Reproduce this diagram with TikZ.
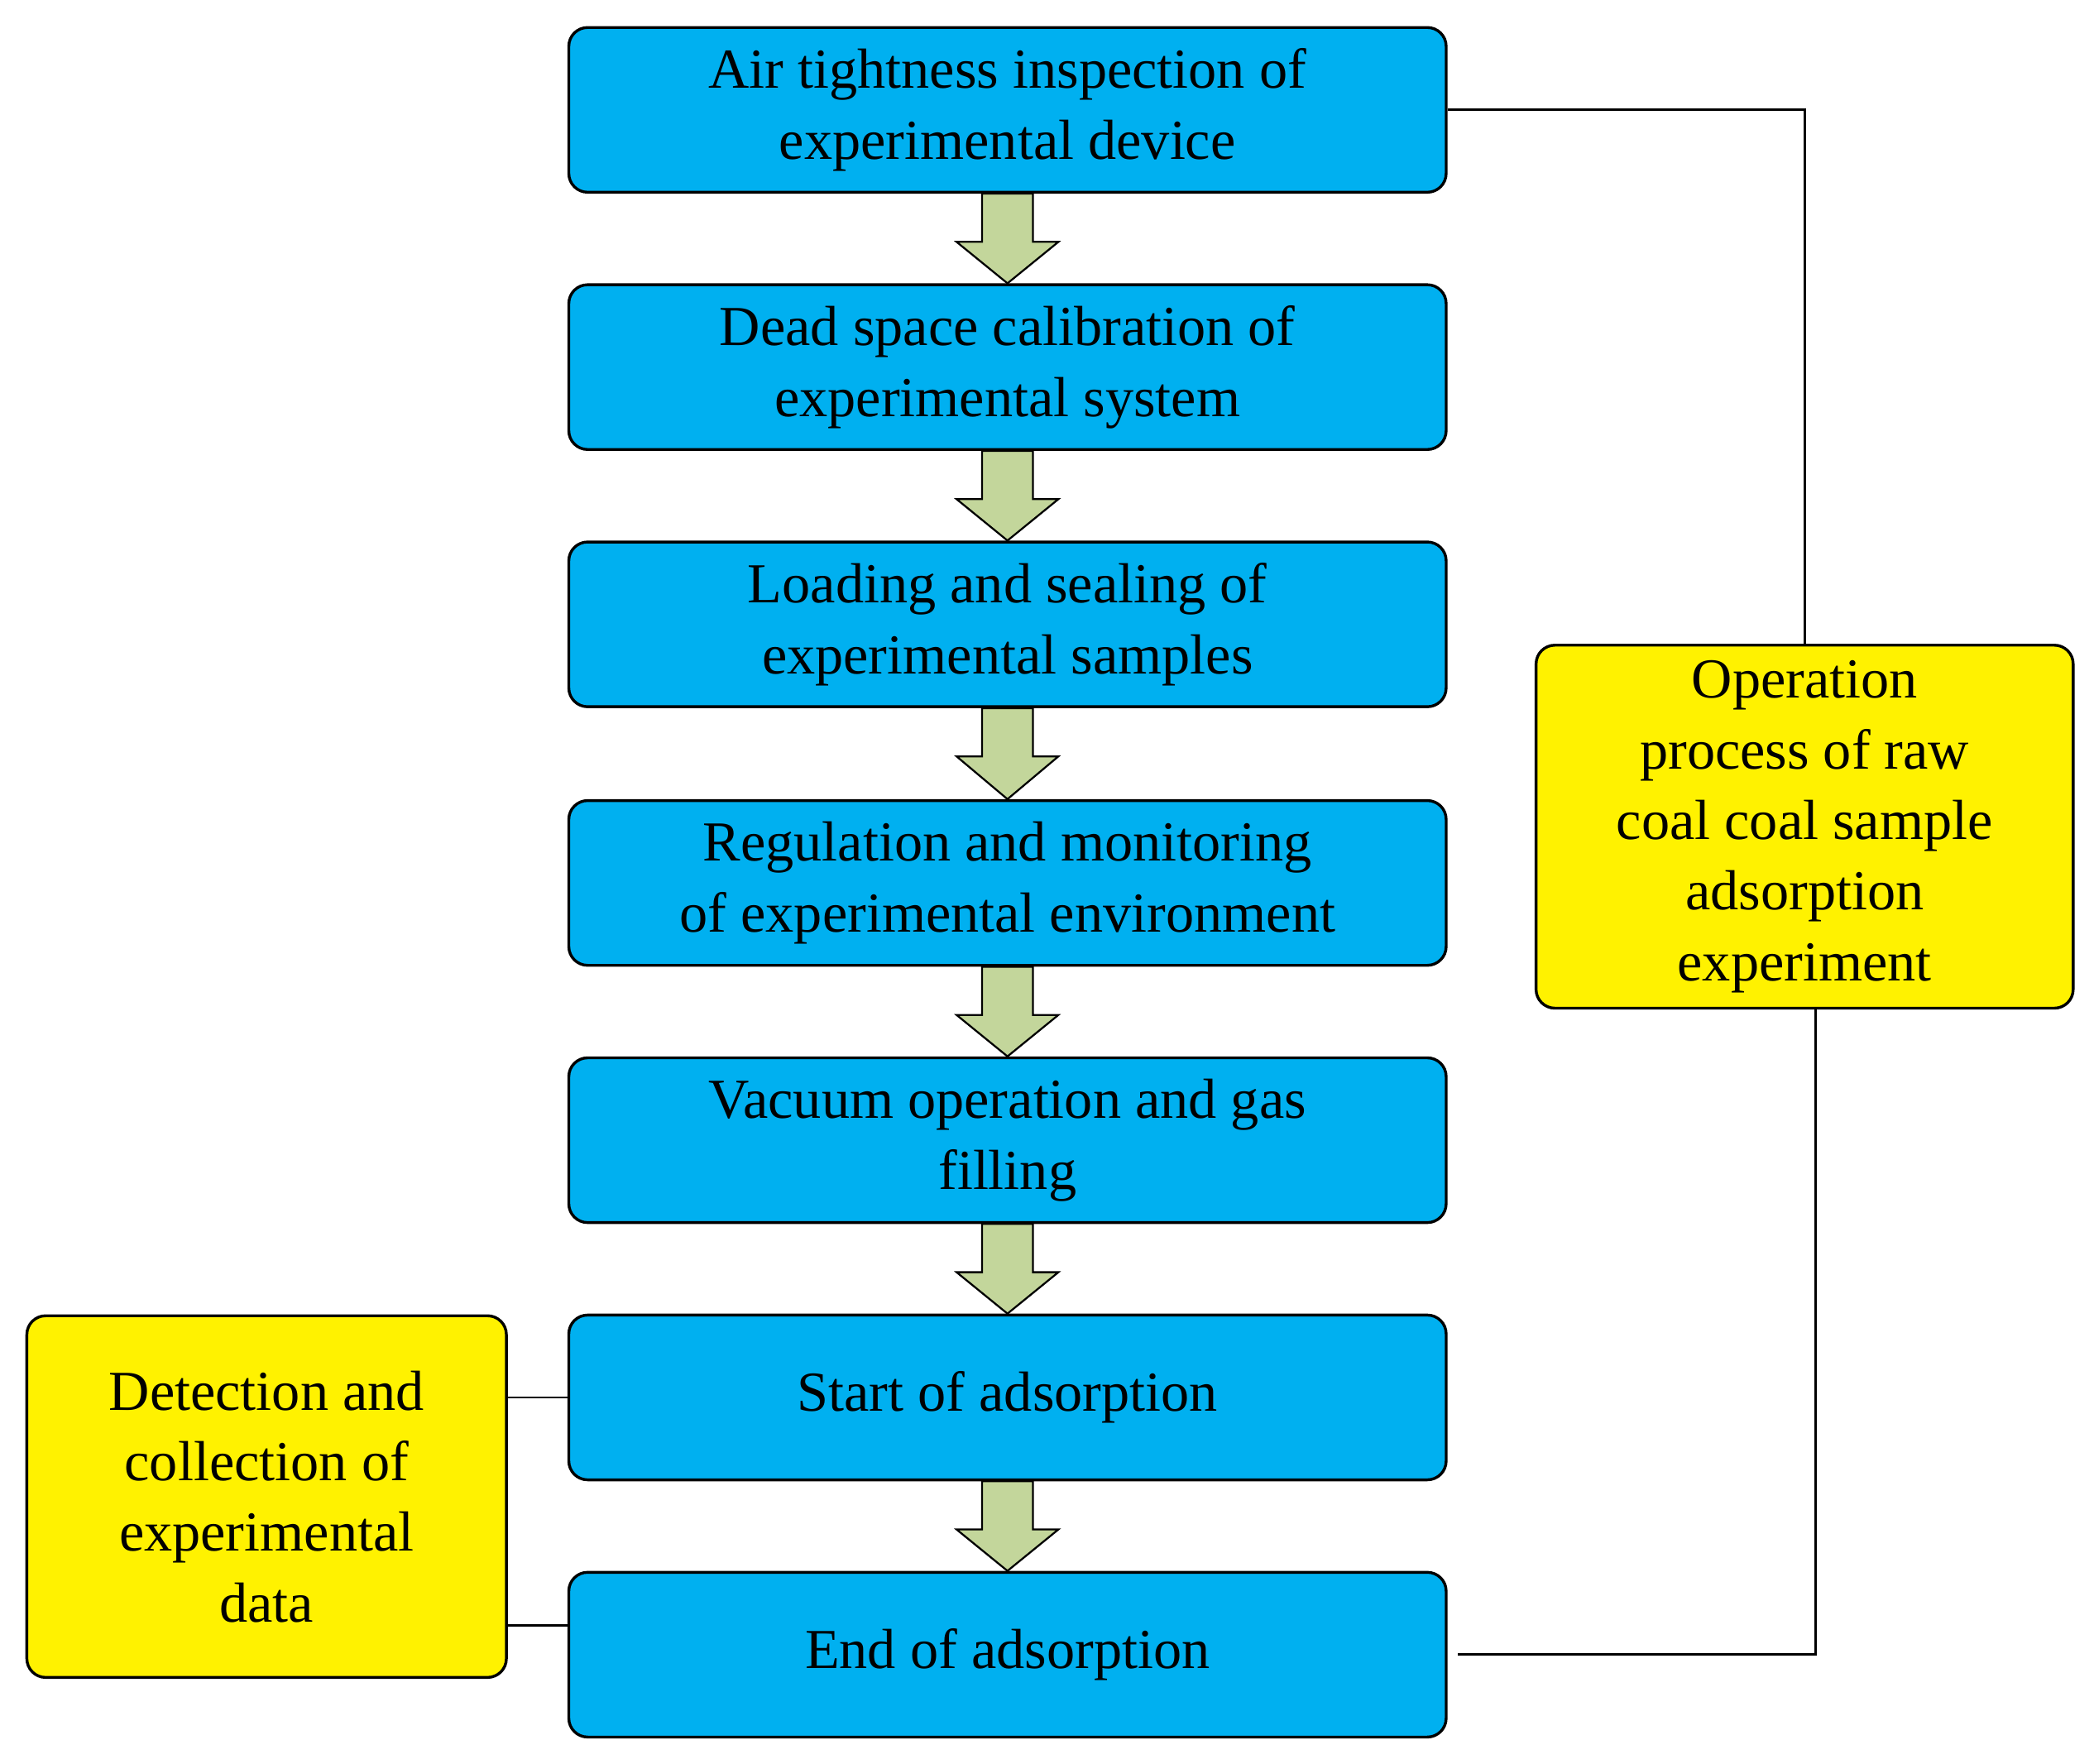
\documentclass[tikz,border=0pt]{standalone}
\usepackage{fontspec}
\setmainfont{Liberation Serif}
\begin{document}
\begin{tikzpicture}[x=0.02cm,y=-0.02cm,
 blue/.style={draw=black,line width=1.2pt,fill={rgb,255:red,0;green,176;blue,240},rounded corners=8pt,minimum width=13.1cm,minimum height=2.46cm,align=center,font=\fontsize{24}{30}\selectfont,inner sep=0pt},
 yel/.style={draw=black,line width=1.2pt,fill=yellow,rounded corners=8pt,align=center,font=\fontsize{24}{30}\selectfont,inner sep=0pt},
 blk/.style={draw=black,line width=0.8pt,fill={rgb,255:red,195;green,214;blue,155}},
 ln/.style={line width=1pt}]
\useasboundingbox (0,0) rectangle (1563,1316);
\foreach \n/\t/\y in {1/{Air tightness inspection of\\experimental device}/82,
 2/{Dead space calibration of\\experimental system}/274,
 3/{Loading and sealing of\\experimental samples}/466,
 4/{Regulation and monitoring\\of experimental environment}/659,
 5/{Vacuum operation and gas\\filling}/851,
 6/{Start of adsorption}/1043,
 7/{End of adsorption}/1235}
 \node[blue] (b\n) at (752,\y) {\t};
\foreach \a/\b in {1/2,2/3,3/4,4/5,5/6,6/7}{
 \draw[blk] ([xshift=-0.38cm]b\a.south) -- ([xshift=-0.38cm,yshift=-0.72cm]b\a.south) -- ([xshift=-0.76cm,yshift=-0.72cm]b\a.south) -- (b\b.north) -- ([xshift=0.76cm,yshift=-0.72cm]b\a.south) -- ([xshift=0.38cm,yshift=-0.72cm]b\a.south) -- ([xshift=0.38cm]b\a.south) -- cycle;}
\node[yel,minimum width=8.02cm,minimum height=5.42cm] (yr) at (1347,617) {Operation\\process of raw\\coal coal sample\\adsorption\\experiment};
\node[yel,minimum width=7.16cm,minimum height=5.4cm] (yl) at (199,1117) {Detection and\\collection of\\experimental\\data};
\coordinate (c1) at (1347,82);
\coordinate (c2) at (1355,1235);
\coordinate (c3) at (1088,1235);
\draw[ln] (b1.east) -- (c1) -- (yr.north);
\draw[ln] (yr.south -| c2) -- (c2) -- (c3);
\draw[ln] (yl.east |- b6.west) -- (b6.west);
\draw[ln] (yl.east |- 0,1213) -- (b7.west |- 0,1213);
\end{tikzpicture}
\end{document}
